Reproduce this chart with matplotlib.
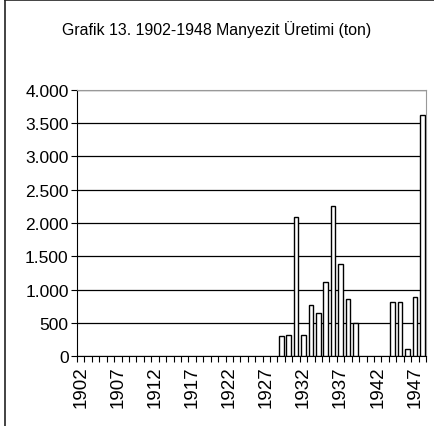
import matplotlib
matplotlib.use("Agg")
import matplotlib.pyplot as plt
from matplotlib.lines import Line2D
from matplotlib.ticker import FuncFormatter, MultipleLocator

plt.rcParams['font.family'] = ['Liberation Sans', 'DejaVu Sans']

years = list(range(1902, 1949))
# production in tons, zero where no bar is drawn
production = [0] * 27 + [300, 320, 2085, 320, 767, 642, 1108, 2256, 1378, 862, 496,
                         0, 0, 0, 0, 817, 817, 105, 887, 3624]
tick_years = [1902, 1907, 1912, 1917, 1922, 1927, 1932, 1937, 1942, 1947]

fig = plt.figure(figsize=(4.34, 4.27), dpi=100)
# chart frame: only left and top edges are visible
fig.lines.append(Line2D([0.012, 0.012], [0, 0.998], transform=fig.transFigure,
                        color='#222222', linewidth=1.2))
fig.lines.append(Line2D([0.012, 1.0], [0.998, 0.998], transform=fig.transFigure,
                        color='#222222', linewidth=1.2))
ax = fig.add_axes([0.1774, 0.1639, 0.8042, 0.623])

x = list(range(len(years)))
ax.bar([i for i, v in zip(x, production) if v > 0],
       [v for v in production if v > 0],
       width=0.62, color='white', edgecolor='black', linewidth=1.0, zorder=3)

ax.set_xlim(-0.5, len(years) - 0.5)
ax.set_ylim(0, 4000)
ax.yaxis.set_major_locator(MultipleLocator(500))
ax.yaxis.set_major_formatter(FuncFormatter(lambda v, p: f"{int(v):,}".replace(',', '.')))
ax.grid(axis='y', color='black', linewidth=0.9, zorder=1)

ax.set_xticks([years.index(y) for y in tick_years])
ax.set_xticklabels([str(y) for y in tick_years], rotation=90)
ax.set_xticks([i - 0.5 for i in range(len(years) + 1)], minor=True)
ax.tick_params(axis='x', which='major', length=0, pad=7, labelsize=13.5)
ax.tick_params(axis='x', which='minor', length=4, direction='out', width=0.8)
ax.tick_params(axis='y', length=4, direction='out', width=0.8, labelsize=12.5, pad=2)

for s in ['top', 'right']:
    ax.spines[s].set_color('#999999')
for s in ['left', 'bottom']:
    ax.spines[s].set_color('black')

fig.text(0.5, 0.93, "Grafik 13. 1902-1948 Manyezit Üretimi (ton)", ha='center', va='center', fontsize=11.4)

fig.savefig("out.png", dpi=100)
